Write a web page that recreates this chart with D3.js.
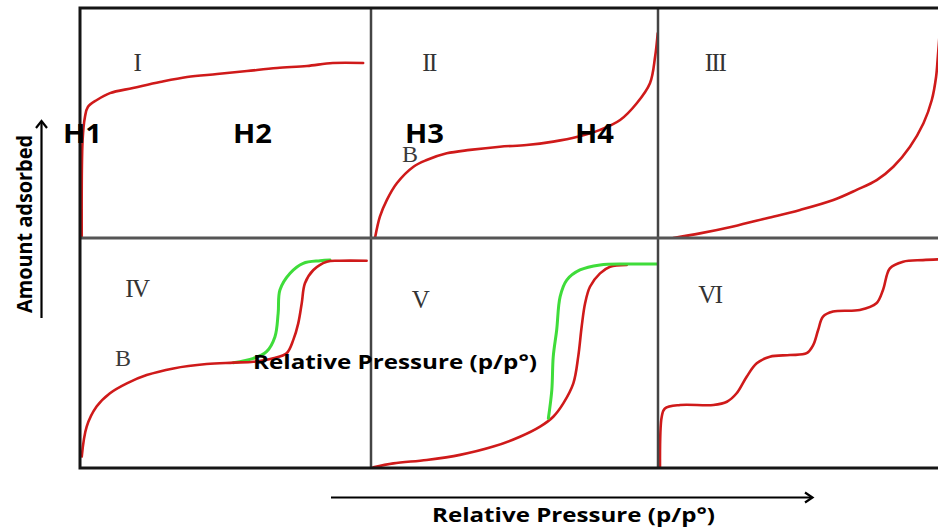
<!DOCTYPE html>
<html><head><meta charset="utf-8">
<script src="https://cdn.jsdelivr.net/npm/d3@7"></script>
<style>body{margin:0;background:#fff}svg{display:block}</style>
</head><body>
<svg id="chart" width="938" height="529"></svg>
<script>
// ---- data (x = relative pressure p/p°, y = amount adsorbed, both 0..1 inside each panel)
const panelNames = ["I", "II", "III", "IV", "V", "VI"];
const hysteresisLabels = ["H1", "H2", "H3", "H4"];
const xAxisTitle = "Relative Pressure (p/p°)";
const yAxisTitle = "Amount adsorbed";

const typeI = [[0.006,0],[0.009,0.426],[0.017,0.526],[0.027,0.57],[0.058,0.60],[0.103,0.63],[0.182,0.652],[0.275,0.678],[0.368,0.70],[0.471,0.713],[0.574,0.726],[0.677,0.739],[0.78,0.748],[0.869,0.761],[0.973,0.761]];
const typeII = [[0.014,0],[0.031,0.093],[0.055,0.165],[0.09,0.238],[0.148,0.31],[0.194,0.339],[0.264,0.368],[0.345,0.383],[0.449,0.397],[0.542,0.404],[0.635,0.419],[0.72,0.44],[0.798,0.47],[0.868,0.513],[0.926,0.586],[0.972,0.673],[0.99,0.789],[0.999,0.89]];
const typeIII = [[0.053,0],[0.146,0.02],[0.262,0.05],[0.379,0.086],[0.495,0.122],[0.611,0.165],[0.692,0.209],[0.762,0.252],[0.82,0.31],[0.878,0.397],[0.925,0.499],[0.954,0.6],[0.969,0.701],[0.975,0.788],[0.982,0.9]];
const typeIVAdsorption = [[0.006,0.05],[0.023,0.18],[0.057,0.267],[0.103,0.325],[0.161,0.368],[0.229,0.404],[0.321,0.433],[0.435,0.452],[0.527,0.458],[0.596,0.462],[0.664,0.477],[0.71,0.499],[0.733,0.557],[0.75,0.629],[0.762,0.716],[0.773,0.803],[0.802,0.861],[0.848,0.897],[0.893,0.901],[0.985,0.901]];
const typeIVDesorption = [[0.527,0.458],[0.596,0.477],[0.641,0.506],[0.67,0.571],[0.681,0.673],[0.687,0.774],[0.722,0.847],[0.767,0.89],[0.825,0.901],[0.859,0.904]];
const typeVAdsorption = [[0.008,0.003],[0.078,0.02],[0.194,0.035],[0.31,0.057],[0.426,0.093],[0.519,0.136],[0.589,0.18],[0.635,0.223],[0.67,0.281],[0.705,0.368],[0.722,0.484],[0.734,0.614],[0.746,0.716],[0.763,0.788],[0.798,0.846],[0.833,0.875],[0.891,0.883]];
const typeVDesorption = [[0.618,0.216],[0.63,0.339],[0.635,0.484],[0.647,0.6],[0.659,0.745],[0.682,0.817],[0.728,0.861],[0.798,0.883],[0.891,0.887],[1.0,0.887]];
const typeVI = [[0.007,0.006],[0.013,0.223],[0.024,0.259],[0.077,0.274],[0.193,0.274],[0.24,0.288],[0.274,0.325],[0.309,0.397],[0.344,0.455],[0.39,0.484],[0.46,0.491],[0.518,0.499],[0.541,0.535],[0.558,0.6],[0.575,0.658],[0.61,0.68],[0.703,0.687],[0.761,0.716],[0.784,0.774],[0.808,0.868],[0.854,0.897],[0.923,0.904],[0.975,0.907]];

// ---- layout
const colX = [80, 371, 658, 945];
const rowY = [8, 238, 468];
const RED = "#cf1a1a", GREEN = "#3fdc3a";

const panels = [
  {name: panelNames[0], col: 0, row: 0, ads: typeI},
  {name: panelNames[1], col: 1, row: 0, ads: typeII},
  {name: panelNames[2], col: 2, row: 0, ads: typeIII},
  {name: panelNames[3], col: 0, row: 1, ads: typeIVAdsorption, des: typeIVDesorption, desFirst: true},
  {name: panelNames[4], col: 1, row: 1, ads: typeVAdsorption, des: typeVDesorption},
  {name: panelNames[5], col: 2, row: 1, ads: typeVI}
];
const numeralPos = [[137,71],[429,71],[715,71],[137,297],[420,308],[710,303]];
const bPos = [[410,162],[123,366]];
const hPos = [[63,143],[233,143],[405,143],[575,143]];

const svg = d3.select("#chart");
svg.append("rect").attr("width", 938).attr("height", 529).attr("fill", "#fff");
const defs = svg.append("defs");

panels.forEach((p, i) => {
  const x0 = colX[p.col], x1 = colX[p.col + 1], y0 = rowY[p.row], y1 = rowY[p.row + 1];
  const xs = d3.scaleLinear().domain([0, 1]).range([x0, x1]);
  const ys = d3.scaleLinear().domain([0, 1]).range([y1, y0]);
  defs.append("clipPath").attr("id", "clip" + i)
    .append("rect").attr("x", x0).attr("y", y0).attr("width", x1 - x0).attr("height", y1 - y0);
  const line = d3.line().x(d => xs(d[0])).y(d => ys(d[1])).curve(d3.curveCatmullRom.alpha(0.5));
  const g = svg.append("g").attr("clip-path", `url(#clip${i})`);
  const drawDes = () => g.append("path").attr("d", line(p.des)).attr("fill", "none")
      .attr("stroke", GREEN).attr("stroke-width", 3).attr("stroke-linecap", "round");
  if (p.des && p.desFirst) drawDes();
  g.append("path").attr("d", line(p.ads)).attr("fill", "none")
    .attr("stroke", RED).attr("stroke-width", 2.6).attr("stroke-linecap", "round").attr("stroke-linejoin", "round");
  if (p.des && !p.desFirst) drawDes();
});

// panel frames
const frame = svg.append("g").attr("fill", "none");
frame.append("line").attr("x1", colX[1]).attr("x2", colX[1]).attr("y1", rowY[0]).attr("y2", rowY[2]).attr("stroke", "#444").attr("stroke-width", 2.5);
frame.append("line").attr("x1", colX[2]).attr("x2", colX[2]).attr("y1", rowY[0]).attr("y2", rowY[2]).attr("stroke", "#444").attr("stroke-width", 2.5);
frame.append("line").attr("x1", colX[0]).attr("x2", colX[3]).attr("y1", rowY[1]).attr("y2", rowY[1]).attr("stroke", "#555").attr("stroke-width", 3);
frame.append("rect").attr("x", colX[0]).attr("y", rowY[0]).attr("width", colX[3] - colX[0]).attr("height", rowY[2] - rowY[0])
  .attr("stroke", "#151515").attr("stroke-width", 3);

// numerals
svg.append("g").selectAll("text").data(panelNames).join("text")
  .attr("x", (d, i) => numeralPos[i][0]).attr("y", (d, i) => numeralPos[i][1])
  .attr("text-anchor", "middle").attr("font-family", "'Liberation Serif', 'DejaVu Serif', serif")
  .attr("font-size", 25).attr("fill", "#333").attr("letter-spacing", -1.5).text(d => d);
svg.append("g").selectAll("text").data(bPos).join("text")
  .attr("x", d => d[0]).attr("y", d => d[1]).attr("text-anchor", "middle")
  .attr("font-family", "'Liberation Serif', serif").attr("font-size", 24).attr("fill", "#3a3a3a").text("B");

// hysteresis labels
svg.append("g").selectAll("text").data(hysteresisLabels).join("text")
  .attr("x", (d, i) => hPos[i][0]).attr("y", (d, i) => hPos[i][1])
  .attr("font-family", "'Open Sans', sans-serif").attr("font-weight", 700).attr("font-size", 27)
  .attr("textLength", 39).attr("lengthAdjust", "spacingAndGlyphs").attr("fill", "#000").text(d => d);

// axis titles
const titleFont = "'Open Sans', sans-serif";
svg.append("text").attr("x", 253).attr("y", 369).attr("font-family", titleFont).attr("font-weight", 700)
  .attr("font-size", 19.5).attr("textLength", 284).attr("lengthAdjust", "spacingAndGlyphs").text(xAxisTitle);
svg.append("text").attr("x", 432).attr("y", 522).attr("font-family", titleFont).attr("font-weight", 700)
  .attr("font-size", 19.5).attr("textLength", 283).attr("lengthAdjust", "spacingAndGlyphs").text(xAxisTitle);
svg.append("text").attr("transform", "translate(31.5,313) rotate(-90)").attr("font-family", titleFont).attr("font-weight", 700)
  .attr("font-size", 20.5).attr("textLength", 178).attr("lengthAdjust", "spacingAndGlyphs").text(yAxisTitle);

// arrows
const arrows = svg.append("g").attr("stroke", "#000").attr("fill", "none").attr("stroke-width", 2.2);
arrows.append("line").attr("x1", 41.5).attr("x2", 41.5).attr("y1", 318).attr("y2", 121);
arrows.append("path").attr("d", "M36,128 L41.5,121 L47,128").attr("stroke-linejoin", "miter");
arrows.append("line").attr("x1", 331).attr("x2", 812).attr("y1", 497.5).attr("y2", 497.5);
arrows.append("path").attr("d", "M805,492.5 L812.5,497.5 L805,502.5");
</script>
</body></html>
